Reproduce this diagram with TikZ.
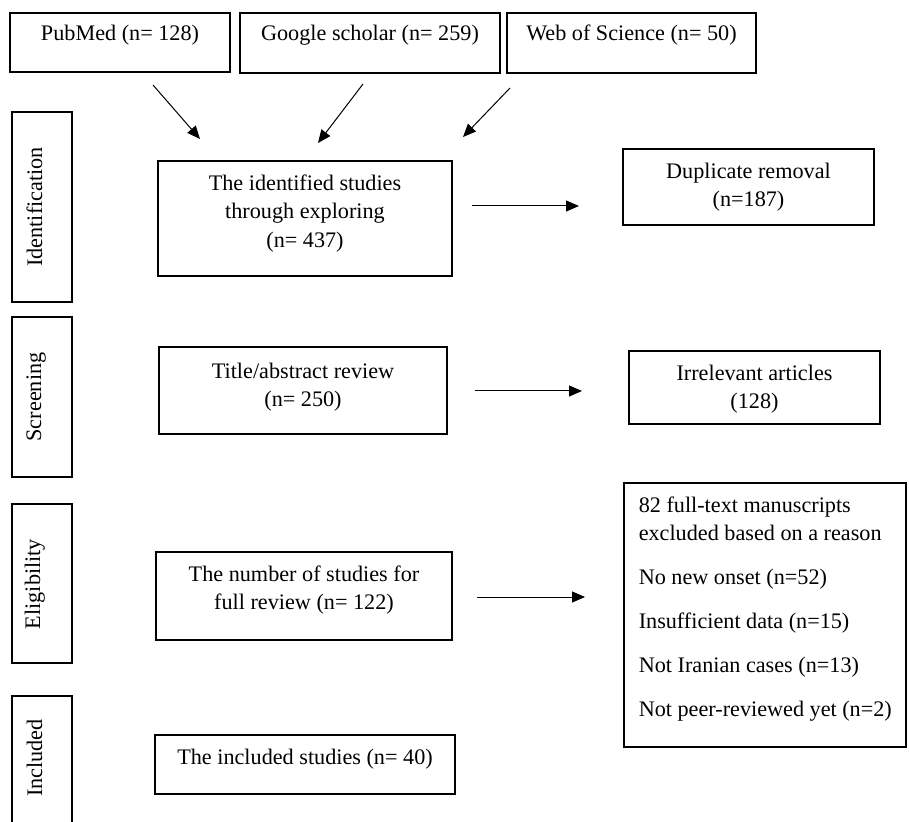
\documentclass[tikz,border=0pt]{standalone}
\usepackage{fontspec}
\setmainfont{Liberation Serif}
\usetikzlibrary{positioning,fit,arrows.meta}
\newcommand\flowfont{\fontsize{11.1pt}{14.2pt}\selectfont}

\begin{document}
\begin{tikzpicture}[x=0.5pt,y=-0.5pt,
    box/.style={draw,line width=0.65pt,inner sep=0pt},
    txt/.style={inner sep=0pt,align=center,font=\flowfont},
    stage/.style={inner sep=0pt,rotate=90,anchor=base,font=\flowfont},
    arr/.style={-{Triangle[length=6.5pt,width=5.5pt]},line width=0.5pt}]
  \useasboundingbox (0,0) rectangle (909,822);
  % sources
  \node[box,fit={(10,13) (230,72)}] (pubmed) {};
  \node[box,fit={(240,13) (500,73)}] (scholar) {};
  \node[box,fit={(507,13) (756,73)}] (wos) {};
  \node[txt,below=6pt of pubmed.north] (pubmedtxt) {PubMed (n= 128)};
  \node[txt,below=6pt of scholar.north] (scholartxt) {Google scholar (n= 259)};
  \node[txt,below=6pt of wos.north] (wostxt) {Web of Science (n= 50)};
  \coordinate (pubS) at (153,85);  \coordinate (pubE) at (200,139);
  \coordinate (schS) at (363,84);  \coordinate (schE) at (318,143);
  \coordinate (wosS) at (510,88);  \coordinate (wosE) at (463,137);
  \draw[arr] (pubS) -- (pubE);
  \draw[arr] (schS) -- (schE);
  \draw[arr] (wosS) -- (wosE);
  % stages
  \node[box,fit={(12,112) (72,302)}] (idbox) {};
  \node[box,fit={(12,317) (72,477)}] (scrbox) {};
  \node[box,fit={(12,504) (72,663)}] (eligbox) {};
  \node[box,fit={(12,696) (72,826)}] (inclbox) {};
  \node[stage] (idtxt) at (42,207) {Identification};
  \node[stage] (scrtxt) at (41,397) {Screening};
  \node[stage] (eligtxt) at (40,584) {Eligibility};
  \node[stage] (incltxt) at (42,758) {Included};
  % flow
  \node[box,fit={(158,161) (452,276)}] (found) {};
  \node[txt,below=7pt of found.north] (foundtxt) {The identified studies\\through exploring\\(n= 437)};
  \node[box,fit={(623,149) (874,225)}] (dup) {};
  \node[txt,below=7pt of dup.north] (duptxt) {Duplicate removal\\(n=187)};
  \node[box,fit={(159,347) (447,434)}] (title) {};
  \node[txt,below=8pt of title.north] (titletxt) {Title/abstract review\\(n= 250)};
  \node[box,fit={(629,351) (880,424)}] (irrel) {};
  \node[txt,below=7pt of irrel.north] (irreltxt) {Irrelevant articles\\(128)};
  \node[box,fit={(156,552) (452,640)}] (full) {};
  \node[txt,below=7pt of full.north] (fulltxt) {The number of studies for\\full review (n= 122)};
  \node[box,fit={(624,483) (906,747)}] (excl) {};
  \node[txt,align=left,below right=7pt and 7.5pt of excl.north west] (excltxt)
    {82 full-text manuscripts\\excluded based on a reason\\[7.8pt]No new onset (n=52)\\[7.8pt]Insufficient data (n=15)\\[7.8pt]Not Iranian cases (n=13)\\[7.8pt]Not peer-reviewed yet (n=2)};
  \node[box,fit={(155,735) (455,794)}] (incl) {};
  \node[txt,below=7pt of incl.north] (incltxt2) {The included studies (n= 40)};
  \coordinate (dupS) at (472,206);  \coordinate (dupE) at (579,206);
  \coordinate (irrS) at (475,391);  \coordinate (irrE) at (582,391);
  \coordinate (exS) at (477,597);   \coordinate (exE) at (585,597);
  \draw[arr] (dupS) -- (dupE);
  \draw[arr] (irrS) -- (irrE);
  \draw[arr] (exS) -- (exE);
\end{tikzpicture}
\end{document}
